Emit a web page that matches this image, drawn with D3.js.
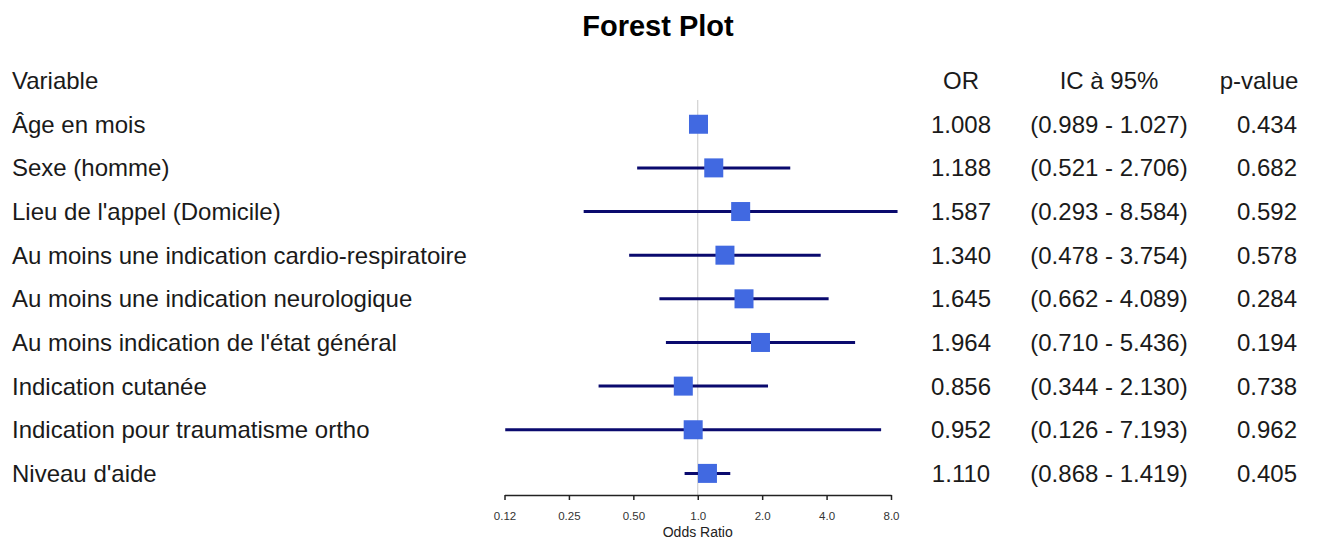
<!DOCTYPE html>
<html>
<head>
<meta charset="utf-8">
<script src="https://cdn.jsdelivr.net/npm/d3@7/dist/d3.min.js"></script>
<style>
  html, body { margin: 0; padding: 0; background: #fff; }
  svg { display: block; font-family: "Liberation Sans", Arial, sans-serif; }
</style>
</head>
<body>
<svg id="chart" width="1322" height="539"></svg>
<script>
const variables = [
  "Âge en mois",
  "Sexe (homme)",
  "Lieu de l'appel (Domicile)",
  "Au moins une indication cardio-respiratoire",
  "Au moins une indication neurologique",
  "Au moins indication de l'état général",
  "Indication cutanée",
  "Indication pour traumatisme ortho",
  "Niveau d'aide"
];
const orValues = [1.008, 1.188, 1.587, 1.340, 1.645, 1.964, 0.856, 0.952, 1.110];
const ciLower = [0.989, 0.521, 0.293, 0.478, 0.662, 0.710, 0.344, 0.126, 0.868];
const ciUpper = [1.027, 2.706, 8.584, 3.754, 4.089, 5.436, 2.130, 7.193, 1.419];
const pValues = ["0.434", "0.682", "0.592", "0.578", "0.284", "0.194", "0.738", "0.962", "0.405"];
const headers = ["Variable", "OR", "IC à 95%", "p-value"];
const tickValues = [0.125, 0.25, 0.5, 1, 2, 4, 8];
const tickLabels = ["0.12", "0.25", "0.50", "1.0", "2.0", "4.0", "8.0"];
const titleText = "Forest Plot";
const axisTitle = "Odds Ratio";

const svg = d3.select("#chart");

const rows = d3.range(variables.length + 1); // 0 = header
const y = d3.scalePoint().domain(rows).range([80.6, 473.4]);
const x = d3.scaleLog().base(2).domain([0.125, 8]).range([504.5, 891]);

const fmt3 = d3.format(".3f");

// Title
svg.append("text")
  .attr("x", 658).attr("y", 36)
  .attr("text-anchor", "middle")
  .style("font-size", "29px").style("font-weight", "bold")
  .attr("fill", "#000")
  .text(titleText);

// Column positions
const colOR = 961, colIC = 1109, colPh = 1259, colPv = 1267;
const fs = "24px";
const dy = 8.6;

// Header
const hdr = svg.append("g").attr("fill", "#1a1a1a").style("font-size", fs);
hdr.append("text").attr("x", 12).attr("y", y(0) + dy).text(headers[0]);
hdr.append("text").attr("x", colOR).attr("y", y(0) + dy).attr("text-anchor", "middle").text(headers[1]);
hdr.append("text").attr("x", colIC).attr("y", y(0) + dy).attr("text-anchor", "middle").text(headers[2]);
hdr.append("text").attr("x", colPh).attr("y", y(0) + dy).attr("text-anchor", "middle").text(headers[3]);

const data = variables.map((v, i) => ({
  name: v, or: orValues[i], lo: ciLower[i], hi: ciUpper[i], p: pValues[i], row: i + 1
}));

const txt = svg.append("g").attr("fill", "#1a1a1a").style("font-size", fs);
txt.selectAll(".lab").data(data).join("text")
  .attr("x", 12).attr("y", d => y(d.row) + dy).text(d => d.name);
txt.selectAll(".or").data(data).join("text")
  .attr("x", colOR).attr("y", d => y(d.row) + dy).attr("text-anchor", "middle")
  .text(d => fmt3(d.or));
txt.selectAll(".ic").data(data).join("text")
  .attr("x", colIC).attr("y", d => y(d.row) + dy).attr("text-anchor", "middle")
  .text(d => "(" + fmt3(d.lo) + " - " + fmt3(d.hi) + ")");
txt.selectAll(".pv").data(data).join("text")
  .attr("x", colPv).attr("y", d => y(d.row) + dy).attr("text-anchor", "middle")
  .text(d => d.p);

// Reference line at OR = 1
const axisY = 495;
svg.append("line")
  .attr("x1", x(1)).attr("x2", x(1))
  .attr("y1", 100).attr("y2", axisY)
  .attr("stroke", "#c8c8c8").attr("stroke-width", 1);

// CI lines
svg.append("g").selectAll("line").data(data).join("line")
  .attr("x1", d => x(d.lo)).attr("x2", d => x(d.hi))
  .attr("y1", d => y(d.row)).attr("y2", d => y(d.row))
  .attr("stroke", "#0a0a6e").attr("stroke-width", 3);

// Boxes
const bs = 19;
svg.append("g").selectAll("rect").data(data).join("rect")
  .attr("x", d => x(d.or) - bs / 2).attr("y", d => y(d.row) - bs / 2)
  .attr("width", bs).attr("height", bs)
  .attr("fill", "#4169E1");

// Axis
const axis = d3.axisBottom(x)
  .tickValues(tickValues)
  .tickFormat((d, i) => tickLabels[i])
  .tickSize(5).tickSizeOuter(0).tickPadding(12);
const gAx = svg.append("g").attr("transform", `translate(0,${axisY})`).call(axis);
gAx.select(".domain").attr("stroke", "#222").attr("stroke-width", 1.5);
gAx.selectAll(".tick line").attr("stroke", "#222").attr("stroke-width", 1.5);
gAx.selectAll(".tick text")
  .style("font-size", "11.5px").style("font-family", "'Liberation Sans', Arial, sans-serif")
  .attr("fill", "#333");

svg.append("text")
  .attr("x", x(1)).attr("y", 537)
  .attr("text-anchor", "middle")
  .style("font-size", "14px").attr("fill", "#222")
  .text(axisTitle);
</script>
</body>
</html>
